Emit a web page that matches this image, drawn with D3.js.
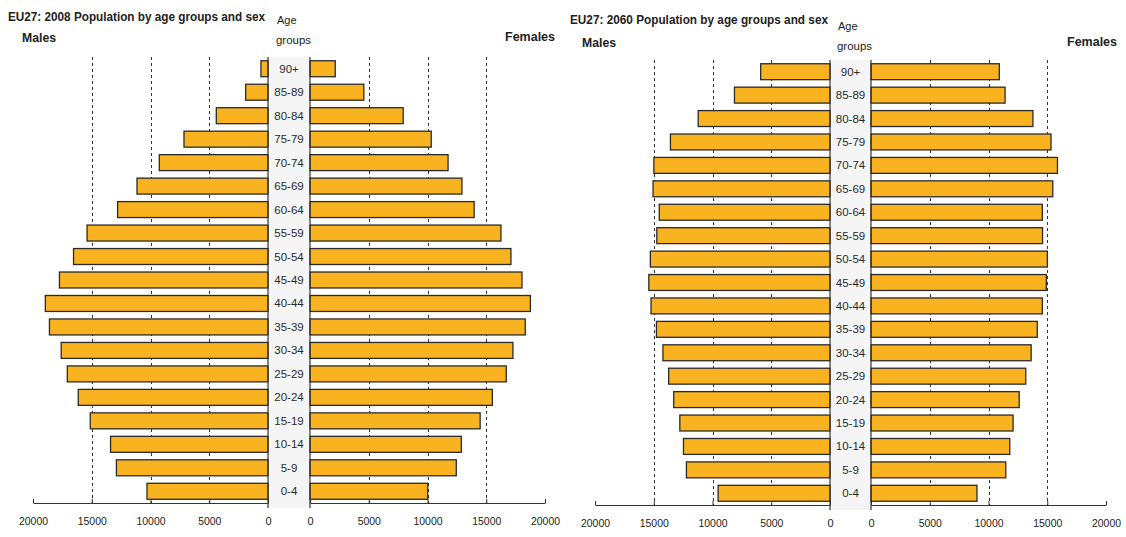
<!DOCTYPE html>
<html><head><meta charset="utf-8">
<script src="https://cdn.jsdelivr.net/npm/d3@7"></script>
<style>
body{margin:0;background:#fff;}
svg{display:block;font-family:"Liberation Sans",Arial,sans-serif;}
</style></head>
<body><svg id="c" width="1126" height="537"></svg>
<script>
const ageGroups = ["90+","85-89","80-84","75-79","70-74","65-69","60-64","55-59","50-54","45-49","40-44","35-39","30-34","25-29","20-24","15-19","10-14","5-9","0-4"];
const males2008   = [600,1900,4400,7150,9250,11150,12800,15400,16550,17750,18950,18600,17600,17080,16150,15130,13400,12900,10300];
const females2008 = [2150,4580,7930,10320,11750,12930,13970,16250,17100,18040,18760,18320,17270,16700,15520,14480,12880,12450,10020];
const males2060   = [5900,8130,11220,13580,14990,15060,14530,14740,15290,15420,15230,14770,14220,13730,13300,12780,12470,12220,9520];
const females2060 = [10920,11410,13780,15320,15870,15470,14580,14600,15010,14920,14580,14150,13630,13170,12610,12090,11810,11470,9020];
const tickValues = [0,5000,10000,15000,20000];
const gridValues = [5000,10000,15000];
const titles = ["EU27: 2008 Population by age groups and sex","EU27: 2060 Population by age groups and sex"];

const svg = d3.select("#c");
const BAR = "#F9B321", INK = "#222";

function pyramid(o){
  const g = svg.append("g");
  const xm = d3.scaleLinear().domain([0,20000]).range([o.m0,o.m20]);
  const xf = d3.scaleLinear().domain([0,20000]).range([o.f0,o.f20]);
  const y = d3.scaleBand().domain(ageGroups).range([o.top,o.bottom]).paddingInner(0.32).paddingOuter(0.16);
  // label column background
  g.append("rect").attr("x",xm(0)).attr("y",o.top).attr("width",xf(0)-xm(0)).attr("height",o.bottom-o.top+5)
    .attr("fill","#f5f5f5");
  // grid
  [xm,xf].forEach(x=>{
    g.selectAll(null).data(gridValues).enter().append("line")
      .attr("x1",d=>Math.round(x(d))+0.5).attr("x2",d=>Math.round(x(d))+0.5)
      .attr("y1",o.top).attr("y2",o.bottom)
      .attr("stroke","#333").attr("stroke-width",1).attr("stroke-dasharray","3,3");
  });
  // bars
  g.selectAll(null).data(o.males).enter().append("rect")
    .attr("x",d=>xm(d)).attr("width",d=>xm(0)-xm(d))
    .attr("y",(d,i)=>y(ageGroups[i])).attr("height",y.bandwidth())
    .attr("fill",BAR).attr("stroke","#2a2a2a").attr("stroke-width",1.3);
  g.selectAll(null).data(o.females).enter().append("rect")
    .attr("x",xf(0)).attr("width",d=>xf(d)-xf(0))
    .attr("y",(d,i)=>y(ageGroups[i])).attr("height",y.bandwidth())
    .attr("fill",BAR).attr("stroke","#2a2a2a").attr("stroke-width",1.3);
  // vertical zero lines
  [xm(0),xf(0)].forEach(x=>{
    g.append("line").attr("x1",x).attr("x2",x).attr("y1",o.top).attr("y2",o.bottom+5)
      .attr("stroke","#333").attr("stroke-width",1.2);
  });
  // x axes
  [xm,xf].forEach(x=>{
    const ax = g.append("g").attr("transform",`translate(0,${o.bottom})`)
      .call(d3.axisBottom(x).tickValues(tickValues).tickFormat(d3.format("d")).tickSizeInner(-4).tickSizeOuter(0).tickPadding(14));
    ax.select(".domain").attr("stroke","#333");
    ax.selectAll(".tick line").attr("stroke","#333");
    ax.selectAll("text").attr("font-size",11).attr("fill",INK).attr("textLength",d=>d===0?null:(String(d).length*5.8)).attr("lengthAdjust","spacingAndGlyphs");
  });
  // age labels
  const cx = (xm(0)+xf(0))/2;
  g.selectAll(null).data(ageGroups).enter().append("text")
    .attr("x",cx).attr("y",d=>y(d)+y.bandwidth()/2+4)
    .attr("text-anchor","middle").attr("font-size",11.5).attr("fill","#2a2a2a").text(d=>d);
  // titles
  g.append("text").attr("x",o.tx).attr("y",o.ty).attr("font-size",12).attr("font-weight","bold")
    .attr("fill",INK).attr("textLength",o.tw).attr("lengthAdjust","spacingAndGlyphs").text(o.title);
  g.append("text").attr("x",o.mx).attr("y",o.my).attr("font-size",12).attr("font-weight","bold")
    .attr("fill",INK).attr("textLength",34).attr("lengthAdjust","spacingAndGlyphs").text("Males");
  g.append("text").attr("x",o.fx).attr("y",o.fy).attr("font-size",12).attr("font-weight","bold")
    .attr("fill",INK).attr("textLength",50).attr("lengthAdjust","spacingAndGlyphs").text("Females");
  g.append("text").attr("x",o.ax).attr("y",o.ay).attr("font-size",11).attr("fill",INK).text("Age");
  g.append("text").attr("x",o.ax-1).attr("y",o.ay+20).attr("font-size",11).attr("fill",INK)
    .attr("textLength",35).attr("lengthAdjust","spacingAndGlyphs").text("groups");
}

pyramid({males:males2008,females:females2008,title:titles[0],
  m0:268,m20:33,f0:310,f20:545,top:57,bottom:503,
  tx:8,ty:21,tw:257,mx:22,my:42,fx:505,fy:41,ax:277,ay:24});
pyramid({males:males2060,females:females2060,title:titles[1],
  m0:830,m20:595,f0:871,f20:1106,top:60,bottom:505,
  tx:570,ty:24,tw:258,mx:582,my:47,fx:1067,fy:46,ax:838,ay:30});
</script></body></html>
